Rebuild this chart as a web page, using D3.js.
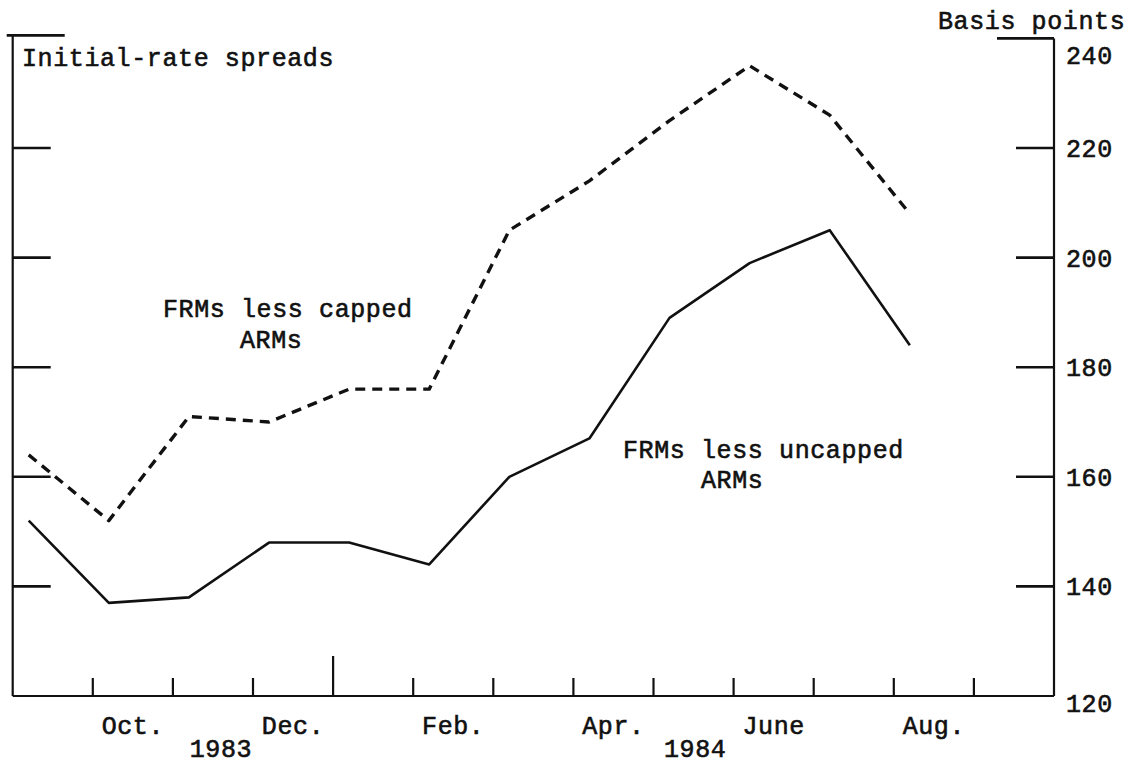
<!DOCTYPE html>
<html>
<head>
<meta charset="utf-8">
<script src="https://cdn.jsdelivr.net/npm/d3@7"></script>
<style>
  html, body { margin: 0; padding: 0; background: #fff; }
  svg { display: block; }
  text { font-family: "Liberation Mono", "DejaVu Sans Mono", monospace; font-size: 25px; fill: #111; stroke: #111; stroke-width: 0.6px; letter-spacing: 0.6px; }
</style>
</head>
<body>
<svg id="chart" width="1134" height="764"></svg>
<script>
// ---- Data ----
const pointMonths = ["Sep 83","Oct 83","Nov 83","Dec 83","Jan 84","Feb 84","Mar 84","Apr 84","May 84","Jun 84","Jul 84","Aug 84"];
const cappedSpread   = [164, 152, 171, 170, 176, 176, 205, 214, 225, 235, 226, 208];
const uncappedSpread = [152, 137, 138, 148, 148, 144, 160, 167, 189, 199, 205, 184];
const monthLabels = ["Oct.", "Dec.", "Feb.", "Apr.", "June", "Aug."];
const monthLabelIdx = [1, 3, 5, 7, 9, 11];
const yearLabels = ["1983", "1984"];
const yearPos = [2.6, 8.52];
const yTicks = [120, 140, 160, 180, 200, 220, 240];
const seriesNames = ["FRMs less capped", "FRMs less uncapped"];

// ---- Layout ----
const svg = d3.select("#chart");
const x = d3.scaleLinear().domain([0, 13]).range([12.7, 1054]);
const y = d3.scaleLinear().domain([120, 240]).range([696, 38.4]);
const ptX = i => x(i + 0.2);

const g = svg.append("g");

// Axes frame
g.append("line").attr("x1", x(0)).attr("x2", x(0)).attr("y1", y(240) - 3).attr("y2", y(120))
  .attr("stroke", "#111").attr("stroke-width", 2.2);
g.append("line").attr("x1", x(13)).attr("x2", x(13)).attr("y1", y(240)).attr("y2", y(120))
  .attr("stroke", "#111").attr("stroke-width", 2.2);
g.append("line").attr("x1", x(0)).attr("x2", x(13)).attr("y1", y(120)).attr("y2", y(120))
  .attr("stroke", "#111").attr("stroke-width", 2.2);

// Y ticks (left and right, pointing inward)
const innerTicks = yTicks.filter(v => v > 120);
g.selectAll(".ltick").data(innerTicks).join("line")
  .attr("x1", v => v === 240 ? x(0) - 6 : x(0))
  .attr("x2", v => v === 240 ? x(0) + 52 : x(0) + 38)
  .attr("y1", v => v === 240 ? y(v) - 3 : y(v))
  .attr("y2", v => v === 240 ? y(v) - 3 : y(v))
  .attr("stroke", "#111").attr("stroke-width", 2.6);
g.selectAll(".rtick").data(innerTicks).join("line")
  .attr("x1", v => v === 240 ? x(13) - 57 : x(13) - 38)
  .attr("x2", x(13))
  .attr("y1", v => y(v)).attr("y2", v => y(v))
  .attr("stroke", "#111").attr("stroke-width", 2.6);

// Right tick labels
g.selectAll(".ylab").data(yTicks).join("text")
  .attr("x", x(13) + 12)
  .attr("y", v => y(v) + (v === 240 ? 26 : v === 120 ? 16 : 9))
  .text(v => v);

// Bottom ticks (month boundaries, year boundary taller)
const monthBounds = d3.range(1, 13);
g.selectAll(".xtick").data(monthBounds).join("line")
  .attr("x1", i => x(i)).attr("x2", i => x(i))
  .attr("y1", y(120))
  .attr("y2", i => i === 4 ? y(120) - 40 : y(120) - 18)
  .attr("stroke", "#111").attr("stroke-width", 2.2);

// Month labels
g.selectAll(".mlab").data(monthLabels).join("text")
  .attr("x", (d, k) => x(monthLabelIdx[k] + 0.5))
  .attr("y", 734)
  .attr("text-anchor", "middle")
  .text(d => d);

// Year labels
g.selectAll(".ylab2").data(yearLabels).join("text")
  .attr("x", (d, k) => x(yearPos[k]))
  .attr("y", 757)
  .attr("text-anchor", "middle")
  .text(d => d);

// Titles
g.append("text").attr("x", 22).attr("y", 66).text("Initial-rate spreads");
g.append("text").attr("x", 938).attr("y", 29).text("Basis points");

// Lines
const line = d3.line().x((d, i) => ptX(i)).y(d => y(d));
g.append("path").datum(cappedSpread).attr("d", line)
  .attr("fill", "none").attr("stroke", "#111").attr("stroke-width", 3.4)
  .attr("stroke-dasharray", "10,7").attr("stroke-linejoin", "round");
g.append("path").datum(uncappedSpread).attr("d", line)
  .attr("fill", "none").attr("stroke", "#111").attr("stroke-width", 2.6)
  .attr("stroke-linejoin", "round");

// Series labels
g.append("text").attr("x", 163).attr("y", 317).text(seriesNames[0]);
g.append("text").attr("x", 240).attr("y", 348).text("ARMs");
g.append("text").attr("x", 623).attr("y", 458).text(seriesNames[1]);
g.append("text").attr("x", 701).attr("y", 488).text("ARMs");
</script>
</body>
</html>
